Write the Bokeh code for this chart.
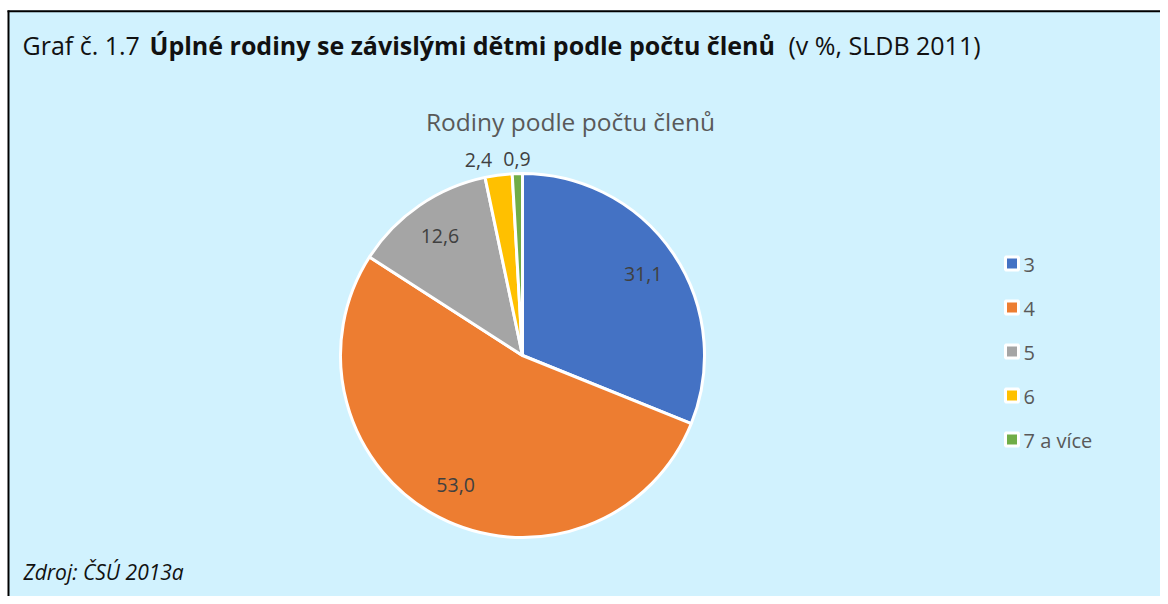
import math
from bokeh.plotting import figure
from bokeh.models import Range1d, ColumnDataSource
from bokeh.embed import file_html
from bokeh.resources import INLINE
from bokeh.core.properties import value

# ---- data ----
categories = ["3", "4", "5", "6", "7 a více"]
shares = [31.1, 53.0, 12.6, 2.4, 0.9]
share_labels = ["31,1", "53,0", "12,6", "2,4", "0,9"]
colors = ["#4472C4", "#ED7D31", "#A5A5A5", "#FFC000", "#70AD47"]

title_normal = "Graf č. 1.7"
title_bold = "Úplné rodiny se závislými dětmi podle počtu členů"
title_suffix = "(v %, SLDB 2011)"
chart_title = "Rodiny podle počtu členů"
source_note = "Zdroj: ČSÚ 2013a"

# ---- layout ----
W, H = 1160, 596
FONT = "Open Sans"
BG = "#D1F2FE"


def Y(t):
    return H - t


p = figure(width=W, height=H, x_range=Range1d(0, W), y_range=Range1d(0, H),
           output_backend="svg", toolbar_location=None, min_border=0,
           x_axis_type=None, y_axis_type=None)
p.grid.visible = False
p.outline_line_color = None
p.background_fill_color = "white"
p.border_fill_color = "white"

# panel background and borders
p.quad(left=[8], right=[W], top=[Y(10)], bottom=[0], fill_color=BG, line_color=None)
p.line([7, W], [Y(10.75), Y(10.75)], line_color="black", line_width=2)
p.line([8, 8], [Y(10), 0], line_color="black", line_width=2)

# titles
p.text(x=[22], y=[Y(44)], text=[title_normal], text_font=value(FONT), text_font_size="25px",
       text_color="#111111", text_baseline="middle", text_align="left")
p.text(x=[149], y=[Y(44)], text=[title_bold], text_font=value(FONT), text_font_size="25px",
       text_font_style="bold", text_color="#111111", text_baseline="middle", text_align="left")
p.text(x=[788], y=[Y(44)], text=[title_suffix], text_font=value(FONT), text_font_size="25px",
       text_color="#111111", text_baseline="middle", text_align="left")
p.text(x=[570], y=[Y(121)], text=[chart_title], text_font=value(FONT), text_font_size="24.5px",
       text_color="#595959", text_baseline="middle", text_align="center")
p.text(x=[23], y=[Y(571)], text=[source_note], text_font=value(FONT), text_font_size="21px",
       text_font_style="italic", text_color="#111111", text_baseline="middle", text_align="left")

# pie
cx, cy, R = 522, Y(355), 182
total = sum(shares)
starts, ends, mids = [], [], []
cum = 0.0
for v in shares:
    a0 = math.pi / 2 - 2 * math.pi * cum / total
    a1 = math.pi / 2 - 2 * math.pi * (cum + v) / total
    starts.append(a1)
    ends.append(a0)
    mids.append((a0 + a1) / 2)
    cum += v

src = ColumnDataSource(dict(start=starts, end=ends, color=colors, cat=categories, share=shares))
p.wedge(x=cx, y=cy, radius=R, start_angle="start", end_angle="end", direction="anticlock",
        fill_color="color", line_color="white", line_width=3, source=src)

# data labels
lx, ly = [], []
outside = []
for v, m, t in zip(shares, mids, share_labels):
    r = 0.8 * R if v >= 5 else R + 15
    lx.append(cx + r * math.cos(m))
    ly.append(cy + r * math.sin(m))
    outside.append(v < 5)

# resolve overlaps among outside labels (push leftwards)
char_w = 9.5
gap = 10
idx = [i for i, o in enumerate(outside) if o]
for k in range(len(idx) - 2, -1, -1):
    i, j = idx[k], idx[k + 1]
    wi = len(share_labels[i]) * char_w
    wj = len(share_labels[j]) * char_w
    max_right = lx[j] - wj / 2 - gap
    if lx[i] + wi / 2 > max_right:
        lx[i] = max_right - wi / 2

p.text(x=lx, y=ly, text=share_labels, text_font=value(FONT), text_font_size="19.5px",
       text_color="#404040", text_baseline="middle", text_align="center")

# legend
leg_y = [Y(263 + 44 * i) for i in range(len(categories))]
p.scatter(x=[1011.5] * len(categories), y=leg_y, marker="square", size=13,
          fill_color=colors, line_color="white", line_width=3)
p.text(x=[1023] * len(categories), y=[yy - 1 for yy in leg_y], text=categories,
       text_font=value(FONT), text_font_size="20px", text_color="#595959",
       text_baseline="middle", text_align="left")

open("out.html", "w").write(file_html(p, INLINE))
